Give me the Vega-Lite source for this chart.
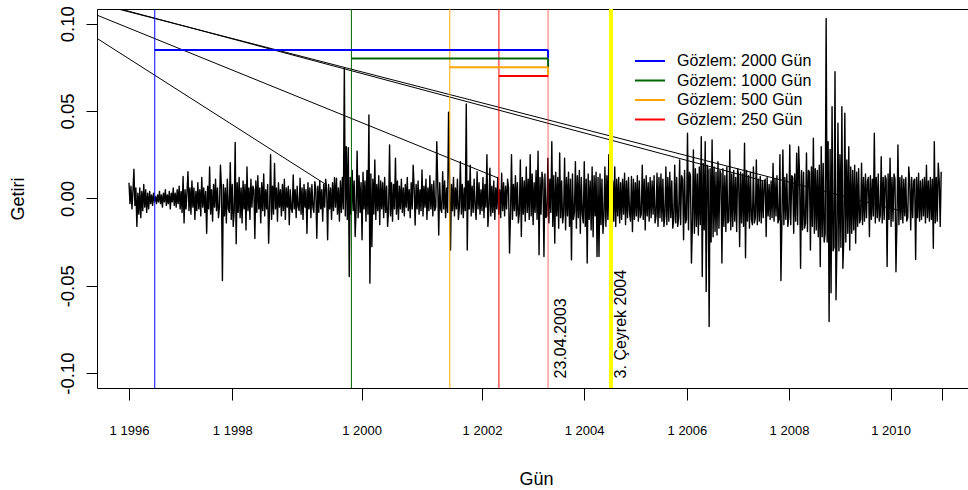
{
"$schema": "https://vega.github.io/schema/vega-lite/v6.json",
"width": 871, "height": 379,
"autosize": {"type": "none"},
"padding": {"left": 97, "top": 9, "right": 0, "bottom": 102},
"background": "white",
"config": {"view": {"stroke": "black", "strokeWidth": 1}, "font": "Liberation Sans"},
"datasets": {
"getiri": [
{"g":1,"r":0.009},{"g":6,"r":-0.003},{"g":11,"r":0.007},{"g":16,"r":-0.006},{"g":21,"r":0.004},{"g":26,"r":0.0167},{"g":31,"r":-0.004},{"g":36,"r":0.006},{"g":41,"r":-0.016},{"g":46,"r":0.003},
{"g":51,"r":-0.009},{"g":56,"r":0.006},{"g":61,"r":-0.011},{"g":66,"r":0.004},{"g":71,"r":-0.007},{"g":76,"r":0.008},{"g":81,"r":-0.005},{"g":86,"r":0.005},{"g":91,"r":-0.008},{"g":96,"r":0.003},
{"g":101,"r":-0.006},{"g":106,"r":0.004},{"g":111,"r":-0.003},{"g":116,"r":0.002},{"g":121,"r":-0.004},{"g":126,"r":0.003},{"g":131,"r":-0.002},{"g":136,"r":0.001},{"g":141,"r":-0.003},{"g":146,"r":0.002},
{"g":151,"r":-0.002},{"g":156,"r":0.004},{"g":161,"r":-0.003},{"g":166,"r":0.002},{"g":171,"r":-0.005},{"g":176,"r":0.003},{"g":181,"r":-0.002},{"g":186,"r":0.005},{"g":191,"r":-0.004},{"g":196,"r":0.002},
{"g":201,"r":-0.003},{"g":206,"r":0.004},{"g":211,"r":-0.006},{"g":216,"r":0.003},{"g":221,"r":-0.002},{"g":226,"r":0.006},{"g":231,"r":-0.004},{"g":236,"r":0.003},{"g":241,"r":-0.005},{"g":246,"r":0.005},
{"g":251,"r":-0.003},{"g":256,"r":0.007},{"g":261,"r":-0.006},{"g":266,"r":0.004},{"g":271,"r":-0.008},{"g":276,"r":0.0125},{"g":281,"r":-0.014},{"g":286,"r":0.005},{"g":291,"r":-0.006},{"g":296,"r":0.004},
{"g":301,"r":0.0153},{"g":306,"r":-0.007},{"g":311,"r":0.006},{"g":316,"r":-0.009},{"g":321,"r":0.010},{"g":326,"r":-0.005},{"g":331,"r":0.006},{"g":336,"r":-0.012},{"g":341,"r":0.004},{"g":346,"r":-0.007},
{"g":351,"r":0.009},{"g":356,"r":-0.006},{"g":361,"r":0.005},{"g":366,"r":-0.010},{"g":371,"r":0.012},{"g":376,"r":-0.005},{"g":381,"r":0.006},{"g":386,"r":-0.008},{"g":391,"r":0.004},{"g":396,"r":-0.020},
{"g":401,"r":0.007},{"g":406,"r":-0.006},{"g":411,"r":0.018},{"g":416,"r":-0.009},{"g":421,"r":0.005},{"g":426,"r":-0.013},{"g":431,"r":0.008},{"g":436,"r":-0.005},{"g":441,"r":0.011},{"g":446,"r":-0.007},
{"g":451,"r":0.006},{"g":456,"r":-0.011},{"g":461,"r":-0.005},{"g":466,"r":0.019},{"g":471,"r":0.006},{"g":476,"r":-0.047},{"g":481,"r":0.008},{"g":486,"r":-0.010},{"g":491,"r":0.006},{"g":496,"r":-0.014},
{"g":501,"r":0.011},{"g":506,"r":-0.006},{"g":511,"r":-0.008},{"g":516,"r":0.0205},{"g":521,"r":-0.012},{"g":526,"r":0.008},{"g":531,"r":-0.016},{"g":536,"r":-0.007},{"g":541,"r":0.032},{"g":546,"r":-0.026},
{"g":551,"r":0.009},{"g":556,"r":-0.008},{"g":561,"r":0.012},{"g":566,"r":-0.011},{"g":571,"r":0.006},{"g":576,"r":-0.014},{"g":581,"r":0.010},{"g":586,"r":-0.006},{"g":591,"r":0.008},{"g":596,"r":-0.018},
{"g":601,"r":0.018},{"g":606,"r":-0.007},{"g":611,"r":0.006},{"g":616,"r":-0.012},{"g":621,"r":0.011},{"g":626,"r":-0.005},{"g":631,"r":0.007},{"g":636,"r":0.005},{"g":641,"r":-0.023},{"g":646,"r":0.010},
{"g":651,"r":-0.008},{"g":656,"r":0.013},{"g":661,"r":-0.006},{"g":666,"r":0.006},{"g":671,"r":-0.014},{"g":676,"r":0.009},{"g":681,"r":-0.007},{"g":686,"r":0.014},{"g":691,"r":-0.010},{"g":696,"r":0.005},
{"g":701,"r":-0.006},{"g":706,"r":0.008},{"g":711,"r":-0.0256},{"g":716,"r":-0.005},{"g":721,"r":0.025},{"g":726,"r":-0.012},{"g":731,"r":0.007},{"g":736,"r":-0.009},{"g":741,"r":0.020},{"g":746,"r":-0.006},
{"g":751,"r":0.006},{"g":756,"r":-0.013},{"g":761,"r":0.009},{"g":766,"r":-0.005},{"g":771,"r":0.005},{"g":776,"r":-0.010},{"g":781,"r":0.008},{"g":786,"r":-0.007},{"g":791,"r":0.011},{"g":796,"r":-0.012},
{"g":801,"r":0.006},{"g":806,"r":-0.005},{"g":811,"r":0.007},{"g":816,"r":-0.015},{"g":821,"r":0.005},{"g":826,"r":-0.006},{"g":831,"r":-0.008},{"g":836,"r":0.0134},{"g":841,"r":-0.006},{"g":846,"r":0.005},
{"g":851,"r":-0.011},{"g":856,"r":0.007},{"g":861,"r":-0.005},{"g":866,"r":-0.007},{"g":871,"r":0.0115},{"g":876,"r":-0.009},{"g":881,"r":0.006},{"g":886,"r":-0.012},{"g":891,"r":0.008},{"g":896,"r":-0.005},
{"g":901,"r":0.005},{"g":906,"r":-0.020},{"g":911,"r":0.009},{"g":916,"r":-0.006},{"g":921,"r":0.006},{"g":926,"r":-0.011},{"g":931,"r":0.008},{"g":936,"r":-0.005},{"g":941,"r":-0.008},{"g":946,"r":0.0096},
{"g":951,"r":0.005},{"g":956,"r":-0.0228},{"g":961,"r":0.007},{"g":966,"r":-0.008},{"g":971,"r":0.010},{"g":976,"r":-0.006},{"g":981,"r":0.005},{"g":986,"r":-0.013},{"g":991,"r":0.008},{"g":996,"r":-0.005},
{"g":1001,"r":0.011},{"g":1006,"r":0.005},{"g":1011,"r":-0.0237},{"g":1016,"r":0.008},{"g":1021,"r":-0.006},{"g":1026,"r":0.006},{"g":1031,"r":-0.012},{"g":1036,"r":0.009},{"g":1041,"r":-0.007},{"g":1046,"r":0.012},
{"g":1051,"r":-0.005},{"g":1056,"r":0.0115},{"g":1061,"r":-0.009},{"g":1066,"r":0.006},{"g":1071,"r":-0.013},{"g":1076,"r":0.010},{"g":1081,"r":-0.008},{"g":1086,"r":0.012},{"g":1091,"r":-0.006},{"g":1096,"r":0.0745},
{"g":1101,"r":-0.010},{"g":1106,"r":0.0296},{"g":1111,"r":-0.012},{"g":1116,"r":0.029},{"g":1121,"r":-0.0447},{"g":1126,"r":0.012},{"g":1131,"r":-0.009},{"g":1136,"r":0.016},{"g":1141,"r":-0.007},{"g":1146,"r":0.010},
{"g":1151,"r":-0.0218},{"g":1156,"r":-0.006},{"g":1161,"r":0.027},{"g":1166,"r":-0.011},{"g":1171,"r":0.013},{"g":1176,"r":-0.008},{"g":1181,"r":0.009},{"g":1186,"r":-0.0237},{"g":1191,"r":0.015},{"g":1196,"r":-0.006},
{"g":1201,"r":0.010},{"g":1206,"r":-0.013},{"g":1211,"r":0.016},{"g":1216,"r":-0.009},{"g":1221,"r":0.0478},{"g":1226,"r":-0.0485},{"g":1231,"r":0.014},{"g":1236,"r":-0.0276},{"g":1241,"r":0.011},{"g":1246,"r":-0.009},
{"g":1251,"r":0.022},{"g":1256,"r":-0.012},{"g":1261,"r":0.008},{"g":1266,"r":-0.007},{"g":1271,"r":0.013},{"g":1276,"r":-0.015},{"g":1281,"r":0.010},{"g":1286,"r":-0.006},{"g":1291,"r":0.009},{"g":1296,"r":-0.011},
{"g":1301,"r":0.012},{"g":1306,"r":-0.008},{"g":1311,"r":0.007},{"g":1316,"r":-0.016},{"g":1321,"r":-0.007},{"g":1326,"r":0.0306},{"g":1331,"r":-0.010},{"g":1336,"r":0.009},{"g":1341,"r":-0.013},{"g":1346,"r":0.008},
{"g":1351,"r":-0.006},{"g":1356,"r":0.023},{"g":1361,"r":-0.009},{"g":1366,"r":0.010},{"g":1371,"r":-0.012},{"g":1376,"r":0.007},{"g":1381,"r":-0.006},{"g":1386,"r":0.011},{"g":1391,"r":-0.008},{"g":1396,"r":0.006},
{"g":1401,"r":-0.010},{"g":1406,"r":0.008},{"g":1411,"r":-0.005},{"g":1416,"r":0.012},{"g":1421,"r":-0.007},{"g":1426,"r":0.005},{"g":1431,"r":-0.011},{"g":1436,"r":0.009},{"g":1441,"r":-0.006},{"g":1446,"r":0.019},
{"g":1451,"r":0.006},{"g":1456,"r":-0.0152},{"g":1461,"r":0.008},{"g":1466,"r":-0.006},{"g":1471,"r":0.010},{"g":1476,"r":-0.009},{"g":1481,"r":0.005},{"g":1486,"r":-0.007},{"g":1491,"r":0.0163},{"g":1496,"r":-0.010},
{"g":1501,"r":0.007},{"g":1506,"r":-0.005},{"g":1511,"r":0.011},{"g":1516,"r":-0.012},{"g":1521,"r":0.006},{"g":1526,"r":-0.007},{"g":1531,"r":0.013},{"g":1536,"r":-0.006},{"g":1541,"r":0.008},{"g":1546,"r":-0.010},
{"g":1551,"r":0.010},{"g":1556,"r":-0.007},{"g":1561,"r":-0.005},{"g":1566,"r":0.0325},{"g":1571,"r":0.008},{"g":1576,"r":-0.0209},{"g":1581,"r":0.009},{"g":1586,"r":-0.006},{"g":1591,"r":-0.008},{"g":1596,"r":0.0153},
{"g":1601,"r":-0.006},{"g":1606,"r":0.010},{"g":1611,"r":-0.011},{"g":1616,"r":0.006},{"g":1621,"r":-0.008},{"g":1626,"r":0.0493},{"g":1631,"r":0.010},{"g":1636,"r":-0.0295},{"g":1641,"r":0.008},{"g":1646,"r":-0.007},
{"g":1651,"r":0.012},{"g":1656,"r":-0.010},{"g":1661,"r":0.006},{"g":1666,"r":-0.006},{"g":1671,"r":0.011},{"g":1676,"r":-0.012},{"g":1681,"r":-0.005},{"g":1686,"r":0.021},{"g":1691,"r":-0.009},{"g":1696,"r":0.008},
{"g":1701,"r":-0.011},{"g":1706,"r":0.006},{"g":1711,"r":-0.007},{"g":1716,"r":0.054},{"g":1721,"r":-0.0295},{"g":1726,"r":0.010},{"g":1731,"r":-0.006},{"g":1736,"r":0.019},{"g":1741,"r":-0.010},{"g":1746,"r":0.007},
{"g":1751,"r":-0.008},{"g":1756,"r":0.011},{"g":1761,"r":-0.005},{"g":1766,"r":-0.012},{"g":1771,"r":0.0153},{"g":1776,"r":-0.006},{"g":1781,"r":0.009},{"g":1786,"r":-0.009},{"g":1791,"r":0.005},{"g":1796,"r":-0.007},
{"g":1801,"r":0.012},{"g":1806,"r":-0.011},{"g":1811,"r":0.008},{"g":1816,"r":-0.005},{"g":1821,"r":0.025},{"g":1826,"r":-0.016},{"g":1831,"r":-0.006},{"g":1836,"r":0.0173},{"g":1841,"r":-0.010},{"g":1846,"r":0.007},
{"g":1851,"r":-0.008},{"g":1856,"r":0.010},{"g":1861,"r":-0.012},{"g":1866,"r":0.006},{"g":1871,"r":-0.006},{"g":1876,"r":0.012},{"g":1881,"r":-0.009},{"g":1886,"r":0.005},{"g":1891,"r":-0.011},{"g":1896,"r":0.0144},
{"g":1901,"r":-0.007},{"g":1906,"r":0.009},{"g":1911,"r":-0.010},{"g":1916,"r":0.007},{"g":1921,"r":-0.006},{"g":1926,"r":0.011},{"g":1931,"r":0.006},{"g":1936,"r":-0.0313},{"g":1941,"r":-0.009},{"g":1946,"r":0.025},
{"g":1951,"r":-0.012},{"g":1956,"r":0.008},{"g":1961,"r":-0.007},{"g":1966,"r":0.013},{"g":1971,"r":-0.010},{"g":1976,"r":0.009},{"g":1981,"r":-0.014},{"g":1986,"r":-0.008},{"g":1991,"r":0.022},{"g":1996,"r":-0.0218},
{"g":2001,"r":0.012},{"g":2006,"r":-0.009},{"g":2011,"r":0.010},{"g":2016,"r":-0.013},{"g":2021,"r":0.018},{"g":2026,"r":-0.008},{"g":2031,"r":0.011},{"g":2036,"r":-0.012},{"g":2041,"r":0.025},{"g":2046,"r":-0.010},
{"g":2051,"r":0.014},{"g":2056,"r":-0.015},{"g":2061,"r":0.009},{"g":2066,"r":-0.008},{"g":2071,"r":0.016},{"g":2076,"r":-0.012},{"g":2081,"r":0.027},{"g":2086,"r":-0.0323},{"g":2091,"r":0.012},{"g":2096,"r":-0.009},
{"g":2101,"r":0.015},{"g":2106,"r":0.010},{"g":2111,"r":-0.0333},{"g":2116,"r":0.014},{"g":2121,"r":-0.011},{"g":2126,"r":-0.010},{"g":2131,"r":0.023},{"g":2136,"r":-0.014},{"g":2141,"r":0.011},{"g":2146,"r":-0.008},
{"g":2151,"r":0.0325},{"g":2156,"r":-0.016},{"g":2161,"r":0.013},{"g":2166,"r":-0.0256},{"g":2171,"r":0.015},{"g":2176,"r":-0.010},{"g":2181,"r":0.012},{"g":2186,"r":-0.017},{"g":2191,"r":0.026},{"g":2196,"r":-0.011},
{"g":2201,"r":0.010},{"g":2206,"r":-0.014},{"g":2211,"r":-0.009},{"g":2216,"r":0.023},{"g":2221,"r":-0.018},{"g":2226,"r":0.012},{"g":2231,"r":-0.010},{"g":2236,"r":0.015},{"g":2241,"r":-0.016},{"g":2246,"r":0.011},
{"g":2251,"r":-0.0352},{"g":2256,"r":0.014},{"g":2261,"r":-0.012},{"g":2266,"r":-0.008},{"g":2271,"r":0.021},{"g":2276,"r":-0.017},{"g":2281,"r":0.013},{"g":2286,"r":-0.011},{"g":2291,"r":0.016},{"g":2296,"r":-0.020},
{"g":2301,"r":0.012},{"g":2306,"r":-0.009},{"g":2311,"r":-0.014},{"g":2316,"r":0.021},{"g":2321,"r":-0.016},{"g":2326,"r":0.011},{"g":2331,"r":-0.037},{"g":2336,"r":0.014},{"g":2341,"r":-0.012},{"g":2346,"r":0.010},
{"g":2351,"r":-0.018},{"g":2356,"r":0.018},{"g":2361,"r":-0.022},{"g":2366,"r":0.013},{"g":2371,"r":-0.010},{"g":2376,"r":0.015},{"g":2381,"r":-0.0333},{"g":2386,"r":0.012},{"g":2391,"r":-0.0333},{"g":2396,"r":0.014},
{"g":2401,"r":-0.015},{"g":2406,"r":0.011},{"g":2411,"r":-0.020},{"g":2416,"r":-0.010},{"g":2421,"r":0.018},{"g":2426,"r":-0.016},{"g":2431,"r":0.013},{"g":2436,"r":-0.012},{"g":2441,"r":0.025},{"g":2446,"r":-0.021},
{"g":2451,"r":0.014},{"g":2456,"r":-0.011},{"g":2461,"r":0.010},{"g":2466,"r":-0.013},{"g":2471,"r":0.018},{"g":2476,"r":-0.016},{"g":2481,"r":0.011},{"g":2486,"r":-0.010},{"g":2491,"r":0.012},{"g":2496,"r":-0.014},
{"g":2501,"r":0.009},{"g":2506,"r":-0.012},{"g":2511,"r":0.011},{"g":2516,"r":-0.009},{"g":2521,"r":0.0144},{"g":2526,"r":-0.015},{"g":2531,"r":0.010},{"g":2536,"r":-0.011},{"g":2541,"r":0.012},{"g":2546,"r":-0.008},
{"g":2551,"r":-0.013},{"g":2556,"r":0.0125},{"g":2561,"r":-0.019},{"g":2566,"r":0.011},{"g":2571,"r":-0.012},{"g":2576,"r":0.009},{"g":2581,"r":-0.010},{"g":2586,"r":0.013},{"g":2591,"r":-0.013},{"g":2596,"r":0.010},
{"g":2601,"r":-0.011},{"g":2606,"r":-0.009},{"g":2611,"r":0.019},{"g":2616,"r":-0.012},{"g":2621,"r":0.011},{"g":2626,"r":-0.018},{"g":2631,"r":0.013},{"g":2636,"r":-0.010},{"g":2641,"r":0.009},{"g":2646,"r":-0.013},
{"g":2651,"r":0.012},{"g":2656,"r":-0.011},{"g":2661,"r":0.010},{"g":2666,"r":-0.009},{"g":2671,"r":0.013},{"g":2676,"r":-0.014},{"g":2681,"r":-0.010},{"g":2686,"r":0.0144},{"g":2691,"r":-0.016},{"g":2696,"r":0.012},
{"g":2701,"r":-0.011},{"g":2706,"r":0.014},{"g":2711,"r":-0.013},{"g":2716,"r":0.011},{"g":2721,"r":-0.016},{"g":2726,"r":-0.010},{"g":2731,"r":0.018},{"g":2736,"r":-0.015},{"g":2741,"r":0.012},{"g":2746,"r":-0.013},
{"g":2751,"r":0.015},{"g":2756,"r":-0.011},{"g":2761,"r":0.010},{"g":2766,"r":-0.017},{"g":2771,"r":-0.012},{"g":2776,"r":0.019},{"g":2781,"r":-0.014},{"g":2786,"r":0.012},{"g":2791,"r":-0.016},{"g":2796,"r":-0.011},
{"g":2801,"r":0.022},{"g":2806,"r":-0.015},{"g":2811,"r":0.013},{"g":2816,"r":0.011},{"g":2821,"r":-0.0237},{"g":2826,"r":0.016},{"g":2831,"r":-0.014},{"g":2836,"r":-0.012},{"g":2841,"r":0.0373},{"g":2846,"r":-0.018},
{"g":2851,"r":0.015},{"g":2856,"r":0.013},{"g":2861,"r":-0.037},{"g":2866,"r":-0.015},{"g":2871,"r":0.0277},{"g":2876,"r":-0.020},{"g":2881,"r":0.017},{"g":2886,"r":-0.016},{"g":2891,"r":0.014},{"g":2896,"r":-0.021},
{"g":2901,"r":0.018},{"g":2906,"r":-0.015},{"g":2911,"r":0.0353},{"g":2916,"r":-0.0447},{"g":2921,"r":0.020},{"g":2926,"r":-0.018},{"g":2931,"r":0.0325},{"g":2936,"r":-0.0533},{"g":2941,"r":0.019},{"g":2946,"r":0.016},
{"g":2951,"r":-0.0733},{"g":2956,"r":0.017},{"g":2961,"r":-0.025},{"g":2966,"r":0.0335},{"g":2971,"r":-0.022},{"g":2976,"r":0.018},{"g":2981,"r":-0.019},{"g":2986,"r":0.015},{"g":2991,"r":-0.021},{"g":2996,"r":0.021},
{"g":3001,"r":-0.017},{"g":3006,"r":0.016},{"g":3011,"r":0.014},{"g":3016,"r":-0.037},{"g":3021,"r":0.017},{"g":3026,"r":-0.016},{"g":3031,"r":0.013},{"g":3036,"r":-0.019},{"g":3041,"r":0.018},{"g":3046,"r":-0.014},
{"g":3051,"r":-0.013},{"g":3056,"r":0.0277},{"g":3061,"r":-0.018},{"g":3066,"r":0.014},{"g":3071,"r":-0.016},{"g":3076,"r":0.016},{"g":3081,"r":-0.013},{"g":3086,"r":0.012},{"g":3091,"r":-0.019},{"g":3096,"r":0.017},
{"g":3101,"r":0.013},{"g":3106,"r":-0.0276},{"g":3111,"r":0.015},{"g":3116,"r":-0.014},{"g":3121,"r":0.014},{"g":3126,"r":-0.016},{"g":3131,"r":0.0316},{"g":3136,"r":-0.034},{"g":3141,"r":0.016},{"g":3146,"r":-0.013},
{"g":3151,"r":0.013},{"g":3156,"r":-0.017},{"g":3161,"r":0.015},{"g":3166,"r":-0.012},{"g":3171,"r":-0.015},{"g":3176,"r":0.018},{"g":3181,"r":-0.014},{"g":3186,"r":-0.011},{"g":3191,"r":0.022},{"g":3196,"r":-0.015},
{"g":3201,"r":0.011},{"g":3206,"r":-0.013},{"g":3211,"r":0.0125},{"g":3216,"r":-0.014},{"g":3221,"r":0.010},{"g":3226,"r":-0.011},{"g":3231,"r":0.009},{"g":3236,"r":0.011},{"g":3241,"r":-0.0218},{"g":3246,"r":0.012},
{"g":3251,"r":-0.010},{"g":3256,"r":0.008},{"g":3261,"r":-0.012},{"g":3266,"r":0.010},{"g":3271,"r":-0.011},{"g":3276,"r":0.020},{"g":3281,"r":-0.013},{"g":3286,"r":0.011},{"g":3291,"r":-0.010},{"g":3296,"r":0.013},
{"g":3301,"r":-0.014},{"g":3306,"r":-0.012},{"g":3311,"r":0.025},{"g":3316,"r":-0.047},{"g":3321,"r":-0.013},{"g":3326,"r":0.0277},{"g":3331,"r":-0.015},{"g":3336,"r":0.012},{"g":3341,"r":-0.012},{"g":3346,"r":0.014},
{"g":3351,"r":-0.016},{"g":3356,"r":-0.011},{"g":3361,"r":0.0306},{"g":3366,"r":-0.015},{"g":3371,"r":0.013},{"g":3376,"r":0.012},{"g":3381,"r":-0.020},{"g":3386,"r":0.014},{"g":3391,"r":-0.013},{"g":3396,"r":0.0259},
{"g":3401,"r":-0.015},{"g":3406,"r":0.0296},{"g":3411,"r":0.013},{"g":3416,"r":-0.040},{"g":3421,"r":0.016},{"g":3426,"r":-0.018},{"g":3431,"r":0.015},{"g":3436,"r":-0.017},{"g":3441,"r":-0.014},{"g":3446,"r":0.026},
{"g":3451,"r":-0.019},{"g":3456,"r":0.016},{"g":3461,"r":0.015},{"g":3466,"r":-0.0295},{"g":3471,"r":0.018},{"g":3476,"r":-0.016},{"g":3481,"r":0.0344},{"g":3486,"r":-0.020},{"g":3491,"r":0.017},{"g":3496,"r":-0.018},
{"g":3501,"r":0.016},{"g":3506,"r":-0.022},{"g":3511,"r":0.019},{"g":3516,"r":-0.039},{"g":3521,"r":0.0296},{"g":3526,"r":-0.022},{"g":3531,"r":0.020},{"g":3536,"r":-0.025},{"g":3541,"r":-0.020},{"g":3546,"r":0.103},
{"g":3551,"r":-0.025},{"g":3556,"r":0.0325},{"g":3561,"r":-0.0705},{"g":3566,"r":0.028},{"g":3571,"r":-0.054},{"g":3576,"r":0.0525},{"g":3581,"r":-0.030},{"g":3586,"r":-0.028},{"g":3591,"r":0.0725},{"g":3596,"r":-0.058},
{"g":3601,"r":-0.025},{"g":3606,"r":0.043},{"g":3611,"r":-0.030},{"g":3616,"r":0.025},{"g":3621,"r":-0.028},{"g":3626,"r":0.0525},{"g":3631,"r":-0.040},{"g":3636,"r":-0.022},{"g":3641,"r":0.0487},{"g":3646,"r":-0.025},
{"g":3651,"r":0.022},{"g":3656,"r":-0.020},{"g":3661,"r":0.0296},{"g":3666,"r":-0.0295},{"g":3671,"r":0.018},{"g":3676,"r":-0.020},{"g":3681,"r":0.016},{"g":3686,"r":-0.018},{"g":3691,"r":0.019},{"g":3696,"r":-0.0256},
{"g":3701,"r":0.015},{"g":3706,"r":-0.016},{"g":3711,"r":0.017},{"g":3716,"r":-0.014},{"g":3721,"r":-0.012},{"g":3726,"r":0.0201},{"g":3731,"r":-0.015},{"g":3736,"r":0.012},{"g":3741,"r":-0.013},{"g":3746,"r":0.014},
{"g":3751,"r":-0.011},{"g":3756,"r":0.010},{"g":3761,"r":0.012},{"g":3766,"r":-0.0218},{"g":3771,"r":0.013},{"g":3776,"r":-0.012},{"g":3781,"r":0.011},{"g":3786,"r":-0.010},{"g":3791,"r":0.0373},{"g":3796,"r":-0.014},
{"g":3801,"r":0.012},{"g":3806,"r":-0.011},{"g":3811,"r":0.014},{"g":3816,"r":-0.013},{"g":3821,"r":-0.010},{"g":3826,"r":0.0239},{"g":3831,"r":-0.014},{"g":3836,"r":0.012},{"g":3841,"r":-0.012},{"g":3846,"r":0.013},
{"g":3851,"r":0.011},{"g":3856,"r":-0.039},{"g":3861,"r":0.014},{"g":3866,"r":-0.012},{"g":3871,"r":0.023},{"g":3876,"r":-0.016},{"g":3881,"r":0.012},{"g":3886,"r":-0.013},{"g":3891,"r":0.014},{"g":3896,"r":0.011},
{"g":3901,"r":-0.042},{"g":3906,"r":-0.013},{"g":3911,"r":0.0306},{"g":3916,"r":-0.015},{"g":3921,"r":0.012},{"g":3926,"r":-0.012},{"g":3931,"r":0.013},{"g":3936,"r":-0.014},{"g":3941,"r":0.011},{"g":3946,"r":-0.010},
{"g":3951,"r":0.012},{"g":3956,"r":-0.013},{"g":3961,"r":-0.011},{"g":3966,"r":0.018},{"g":3971,"r":0.010},{"g":3976,"r":-0.018},{"g":3981,"r":0.012},{"g":3986,"r":-0.011},{"g":3991,"r":0.010},{"g":3996,"r":0.011},
{"g":4001,"r":-0.035},{"g":4006,"r":0.012},{"g":4011,"r":-0.011},{"g":4016,"r":0.0144},{"g":4021,"r":-0.013},{"g":4026,"r":0.010},{"g":4031,"r":-0.012},{"g":4036,"r":0.011},{"g":4041,"r":-0.010},{"g":4046,"r":0.012},
{"g":4051,"r":-0.014},{"g":4056,"r":0.019},{"g":4061,"r":-0.011},{"g":4066,"r":0.010},{"g":4071,"r":-0.013},{"g":4076,"r":0.012},{"g":4081,"r":-0.012},{"g":4086,"r":0.011},{"g":4091,"r":-0.0285},{"g":4096,"r":0.0325},
{"g":4101,"r":-0.014},{"g":4106,"r":0.012},{"g":4111,"r":-0.013},{"g":4116,"r":0.0201},{"g":4121,"r":0.010},{"g":4126,"r":-0.016},{"g":4131,"r":0.0153}
]
},
"layer": [
{
"data": {"name": "getiri"},
"mark": {"type": "line", "color": "black", "strokeWidth": 1.4, "strokeJoin": "round"},
"encoding": {
"x": {"field": "g", "type": "quantitative", "title": "Gün",
"scale": {"domain": [-161.7, 4267.3], "nice": false, "zero": false},
"axis": {"values": [1, 526, 1184, 1796, 2315, 2838, 3357, 3874, 4133],
"labelExpr": "datum.value==1?'1 1996':datum.value==526?'1 1998':datum.value==1184?'1 2000':datum.value==1796?'1 2002':datum.value==2315?'1 2004':datum.value==2838?'1 2006':datum.value==3357?'1 2008':datum.value==3874?'1 2010':''",
"labelFontSize": 13, "labelPadding": 24, "labelColor": "black", "labelFlush": false, "labelOverlap": false,
"tickSize": 12, "tickColor": "black", "domain": false, "grid": false,
"titleFontSize": 18, "titleFontWeight": "normal", "titleColor": "black",
"titleX": 439, "titleY": 96, "titleAlign": "center", "titleBaseline": "alphabetic"}},
"y": {"field": "r", "type": "quantitative", "title": "Getiri",
"scale": {"domain": [-0.1085, 0.1084], "nice": false, "zero": false},
"axis": {"values": [-0.1, -0.05, 0, 0.05, 0.1], "format": ".2f",
"labelExpr": "replace(datum.label, '\u2212', '-')",
"labelAngle": 270, "labelAlign": "center", "labelBaseline": "bottom", "labelPadding": 9,
"labelFontSize": 18.5, "labelColor": "black", "labelFlush": false, "labelOverlap": false,
"tickSize": 11, "tickColor": "black", "domain": false, "grid": false,
"titleFontSize": 18, "titleFontWeight": "normal", "titleColor": "black",
"titleX": -74, "titleY": 189.5, "titleAngle": 270, "titleAlign": "center", "titleBaseline": "alphabetic"}}
}
},
{
"data": {"values": [
{"cizgi": "A", "gun": -162, "r": 0.0916}, {"cizgi": "A", "gun": 1006, "r": 0.0077},
{"cizgi": "B", "gun": -162, "r": 0.1049}, {"cizgi": "B", "gun": 1877, "r": 0.0117},
{"cizgi": "C1", "gun": -162, "r": 0.1120}, {"cizgi": "C1", "gun": 3235, "r": 0.0098},
{"cizgi": "C2", "gun": -162, "r": 0.1115}, {"cizgi": "C2", "gun": 3962, "r": -0.0082}
]},
"mark": {"type": "line", "color": "black", "strokeWidth": 1, "clip": true},
"encoding": {
"x": {"field": "gun", "type": "quantitative"},
"y": {"field": "r", "type": "quantitative"},
"detail": {"field": "cizgi", "type": "nominal"}
}
},
{
"data": {"values": [
{"gun": 132, "pencere": "2000"}, {"gun": 1132, "pencere": "1000"}, {"gun": 1882, "pencere": "250"}
]},
"mark": {"type": "rule", "strokeWidth": 1},
"encoding": {
"x": {"field": "gun", "type": "quantitative"},
"stroke": {"field": "pencere", "type": "nominal", "legend": null,
"scale": {"domain": ["2000", "1000", "500", "250"], "range": ["#0000FF", "#006400", "#FFA500", "#FF0000"]}}
}
},
{
"data": {"values": [{"gun": 1632, "pencere": "500"}]},
"mark": {"type": "rule", "strokeWidth": 1.2, "opacity": 0.8},
"encoding": {
"x": {"field": "gun", "type": "quantitative"},
"stroke": {"field": "pencere", "type": "nominal", "legend": null,
"scale": {"domain": ["2000", "1000", "500", "250"], "range": ["#0000FF", "#006400", "#FFA500", "#FF0000"]}}
}
},
{
"data": {"values": [{"gun": 2132, "pencere": "250"}]},
"mark": {"type": "rule", "strokeWidth": 1, "opacity": 0.6},
"encoding": {
"x": {"field": "gun", "type": "quantitative"},
"stroke": {"field": "pencere", "type": "nominal", "legend": null,
"scale": {"domain": ["2000", "1000", "500", "250"], "range": ["#0000FF", "#006400", "#FFA500", "#FF0000"]}}
}
},
{
"data": {"values": [{"gun": 2452}]},
"mark": {"type": "rule", "strokeWidth": 4, "color": "#FFFF00"},
"encoding": {"x": {"field": "gun", "type": "quantitative"}}
},
{
"data": {"values": [
{"gun": 2132, "ust": 0.085, "alt": 0.08, "pencere": "2000"},
{"gun": 2132, "ust": 0.08, "alt": 0.075, "pencere": "1000"},
{"gun": 2132, "ust": 0.075, "alt": 0.07, "pencere": "500"}
]},
"mark": {"type": "rule", "strokeWidth": 2},
"encoding": {
"x": {"field": "gun", "type": "quantitative"},
"y": {"field": "ust", "type": "quantitative"},
"y2": {"field": "alt"},
"stroke": {"field": "pencere", "type": "nominal", "legend": null,
"scale": {"domain": ["2000", "1000", "500", "250"], "range": ["#0000FF", "#006400", "#FFA500", "#FF0000"]}}
}
},
{
"data": {"values": [
{"seri": "Gözlem: 2000 Gün", "bas": 132, "son": 2132, "seviye": 0.085},
{"seri": "Gözlem: 1000 Gün", "bas": 1132, "son": 2132, "seviye": 0.08},
{"seri": "Gözlem: 500 Gün", "bas": 1632, "son": 2132, "seviye": 0.075},
{"seri": "Gözlem: 250 Gün", "bas": 1882, "son": 2132, "seviye": 0.07}
]},
"mark": {"type": "rule", "strokeWidth": 2},
"encoding": {
"x": {"field": "bas", "type": "quantitative"},
"x2": {"field": "son"},
"y": {"field": "seviye", "type": "quantitative"},
"color": {"field": "seri", "type": "nominal",
"scale": {"domain": ["Gözlem: 2000 Gün", "Gözlem: 1000 Gün", "Gözlem: 500 Gün", "Gözlem: 250 Gün"],
"range": ["#0000FF", "#006400", "#FFA500", "#FF0000"]},
"legend": {"orient": "none", "legendX": 544, "legendY": 43, "title": null, "padding": 0,
"symbolType": "M-1.875,0H1.875", "symbolSize": 256, "symbolStrokeWidth": 2,
"labelFontSize": 16, "labelColor": "black", "labelOffset": 18, "rowPadding": 2.5}}
}
},
{
"data": {"values": [{"etiket": "23.04.2003", "gun": 2132, "konum": -0.103}]},
"mark": {"type": "text", "angle": 270, "align": "left", "baseline": "alphabetic", "dy": 18, "fontSize": 16, "color": "black"},
"encoding": {
"x": {"field": "gun", "type": "quantitative"},
"y": {"field": "konum", "type": "quantitative"},
"text": {"field": "etiket"}
}
},
{
"data": {"values": [{"etiket": "3. Çeyrek 2004", "gun": 2452, "konum": -0.103}]},
"mark": {"type": "text", "angle": 270, "align": "left", "baseline": "alphabetic", "dy": 15, "fontSize": 16, "color": "black"},
"encoding": {
"x": {"field": "gun", "type": "quantitative"},
"y": {"field": "konum", "type": "quantitative"},
"text": {"field": "etiket"}
}
}
]
}
